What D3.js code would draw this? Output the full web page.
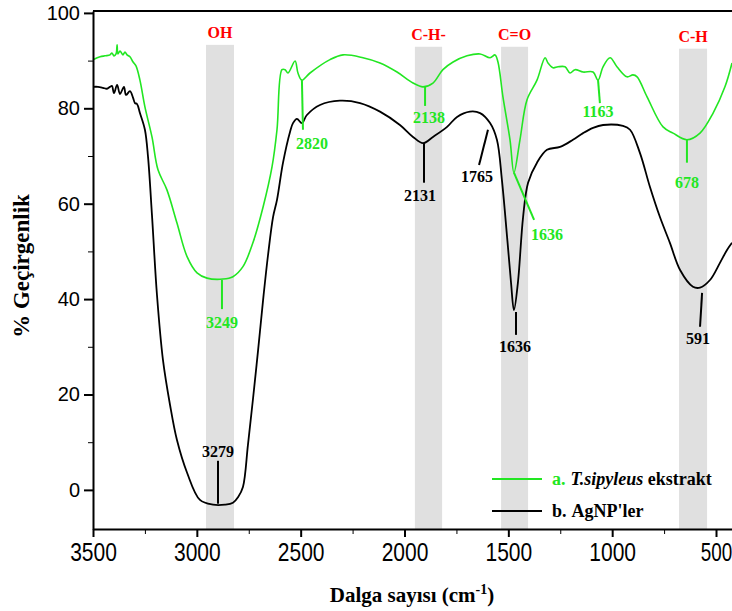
<!DOCTYPE html>
<html>
<head>
<meta charset="utf-8">
<script src="https://cdn.jsdelivr.net/npm/d3@7/dist/d3.min.js"></script>
<style>
  html, body { margin: 0; padding: 0; background: #fff; }
  svg { display: block; }
</style>
</head>
<body>
<svg id="chart" width="732" height="611"></svg>
<script>
// FTIR spectra: wavenumber (cm-1) vs. % transmittance
const extractWavenumber = [3500,3466,3442,3418,3409,3399,3389,3384,3380,3370,3356,3346,3336,3322,3307,3293,3274,3250,3216,3187,3144,3096,3047,2999,2951,2874,2826,2778,2730,2681,2638,2614,2590,2575,2561,2527,2513,2494,2455,2359,2296,2200,2118,2036,1959,1911,1863,1815,1766,1699,1636,1588,1564,1550,1526,1492,1473,1444,1410,1362,1323,1309,1285,1261,1227,1203,1179,1140,1092,1068,1044,1010,977,929,900,880,832,755,707,640,577,514,457,423];
const extractT = [90.2,90.8,91.0,91.2,91.6,91.0,91.4,93.3,91.4,92.0,91.2,91.8,91.2,90.8,89.7,88.9,85.9,80.3,74.0,67.1,62.9,56.0,48.9,45.5,44.4,44.2,44.7,46.8,51.8,59.3,67.7,75.5,88.1,88.1,87.4,89.9,87.4,85.9,87.4,90.2,91.2,90.6,89.5,87.6,85.3,84.5,85.3,88.1,89.7,91.0,91.4,90.6,91.2,89.7,82.4,73.4,66.5,73.4,81.8,85.9,90.6,89.5,88.5,88.7,88.7,87.4,88.1,87.6,87.6,85.9,88.7,90.6,88.7,86.6,87.0,86.6,82.4,76.1,74.8,73.4,74.8,79.0,84.5,89.5];

const agnpWavenumber = [3500,3476,3452,3433,3418,3409,3399,3384,3370,3351,3341,3322,3307,3298,3288,3274,3250,3235,3216,3192,3163,3129,3096,3047,2985,2922,2864,2826,2801,2778,2754,2730,2705,2681,2657,2633,2614,2585,2551,2537,2518,2494,2470,2407,2311,2214,2118,2022,1959,1911,1863,1795,1747,1685,1636,1588,1555,1531,1506,1487,1473,1454,1429,1405,1362,1314,1251,1189,1140,1092,1044,948,914,866,818,770,722,673,611,577,529,481,447,423];
const agnpT = [84.5,84.5,84.3,84.1,84.5,84.7,83.2,84.9,83.0,84.5,82.8,83.6,82.2,81.1,80.9,79.0,75.5,69.8,57.6,40.9,27.2,17.8,10.5,3.6,-2.1,-3.1,-3.1,-2.7,-1.5,0.6,9.4,18.9,29.3,39.8,49.3,57.2,60.8,68.6,75.1,76.9,77.8,76.9,78.6,80.7,81.6,81.1,79.3,76.5,74.0,72.7,74.0,76.1,78.2,79.3,79.0,76.9,73.4,65.0,53.0,43.4,37.7,43.4,57.2,64.4,68.6,71.3,71.9,73.4,74.8,75.9,76.5,76.3,75.5,70.6,63.5,57.2,51.8,46.1,42.6,42.4,44.0,47.6,50.3,51.8];

// Shaded functional-group regions
const bandNames = ["OH", "C-H-", "C=O", "C-H"];
const bandFrom  = [2956, 1950, 1535, 678];
const bandTo    = [2821, 1819, 1405, 543];
const bandTop   = [93.3, 92.9, 92.9, 92.5];

// Peak annotations: label, marked point (w, t), leader end (w2, t2), label anchor (wl, tl)
const peakLabels = ["3249","2820","2138","1636","1163","678","3279","2131","1765","1636","591"];
const peakSeries = ["a","a","a","a","a","a","b","b","b","b","b"];
const peakW  = [2879,2494,1901,1473,1068,640, 2898,1906,1598,1463,567];
const peakT  = [44.0,85.9,84.5,66.5,85.9,73.4, -2.9,72.7,75.5,37.3,41.3];
const leadW  = [2879,2489,1901,1376,1059,640, 2898,1906,1641,1463,577];
const leadT  = [37.9,75.5,80.5,56.6,81.1,68.6, 6.1,64.4,68.1,32.5,34.2];
const labelW = [2879,2445,1882,1314,1068,640, 2898,1925,1651,1468,587];
const labelT = [34.0,71.5,76.9,52.4,78.2,63.3, 6.9,60.6,64.6,28.9,30.6];

const xMajor = [3500,3000,2500,2000,1500,1000,500];
const xMinor = [3250,2750,2250,1750,1250,750];
const yMajor = [0,20,40,60,80,100];
const yMinor = [10,30,50,70,90];

const GREEN = "#22e622";
const BLACK = "#000000";
const colorOf = s => s === "a" ? GREEN : BLACK;
const SERIF = "'Liberation Serif', 'Times New Roman', serif";
const SANS = "'Liberation Sans', Arial, sans-serif";

const svg = d3.select("#chart");
const plotLeft = 93, plotRight = 732, plotTop = 11, plotBottom = 529;

const x = d3.scaleLinear().domain([3500, 423]).range([plotLeft, plotRight]);
const y = d3.scaleLinear().domain([-8.2, 100.4]).range([plotBottom, plotTop]);

// bands
const bands = bandNames.map((n, i) => ({ name: n, from: bandFrom[i], to: bandTo[i], top: bandTop[i] }));
svg.append("g").selectAll("rect").data(bands).join("rect")
  .attr("x", d => x(d.from))
  .attr("width", d => x(d.to) - x(d.from))
  .attr("y", d => y(d.top))
  .attr("height", d => plotBottom - y(d.top))
  .attr("fill", "#e0e0e0");

svg.append("g").selectAll("text").data(bands).join("text")
  .attr("x", d => (x(d.from) + x(d.to)) / 2)
  .attr("y", d => y(d.top) - 7)
  .attr("text-anchor", "middle")
  .attr("font-family", SERIF)
  .attr("font-weight", "bold")
  .attr("font-size", 16)
  .attr("fill", "#ff0000")
  .text(d => d.name);

// spectra
const line = d3.line().x(d => x(d[0])).y(d => y(d[1])).curve(d3.curveCatmullRom.alpha(0.5));
const extract = d3.zip(extractWavenumber, extractT);
const agnp = d3.zip(agnpWavenumber, agnpT);

svg.append("path").datum(agnp).attr("d", line)
  .attr("fill", "none").attr("stroke", BLACK).attr("stroke-width", 1.8).attr("stroke-linejoin", "round");
svg.append("path").datum(extract).attr("d", line)
  .attr("fill", "none").attr("stroke", GREEN).attr("stroke-width", 1.6).attr("stroke-linejoin", "round");

// peak leaders and labels
const peaks = peakLabels.map((t, i) => ({
  text: t, s: peakSeries[i], w: peakW[i], t: peakT[i], w2: leadW[i], t2: leadT[i], wl: labelW[i], tl: labelT[i]
}));
svg.append("g").selectAll("line").data(peaks).join("line")
  .attr("x1", d => x(d.w)).attr("y1", d => y(d.t))
  .attr("x2", d => x(d.w2)).attr("y2", d => y(d.t2))
  .attr("stroke", d => colorOf(d.s)).attr("stroke-width", 2);
svg.append("g").selectAll("text").data(peaks).join("text")
  .attr("x", d => x(d.wl)).attr("y", d => y(d.tl))
  .attr("text-anchor", "middle")
  .attr("font-family", SERIF)
  .attr("font-weight", "bold")
  .attr("font-size", 16)
  .attr("fill", d => colorOf(d.s))
  .text(d => d.text);

// axes
const xAxis = svg.append("g").attr("transform", `translate(0,${plotBottom})`)
  .call(d3.axisBottom(x).tickValues(xMajor).tickSize(8).tickSizeOuter(0).tickFormat(d3.format("d")));
svg.append("g").attr("transform", `translate(0,${plotBottom})`)
  .call(d3.axisBottom(x).tickValues(xMinor).tickSize(5).tickSizeOuter(0).tickFormat(""))
  .call(g => g.select(".domain").remove());
xAxis.select(".domain").attr("stroke-width", 2);
xAxis.selectAll(".tick line").attr("stroke-width", 2);
xAxis.selectAll(".tick text")
  .attr("y", null).attr("dy", null)
  .attr("transform", d => x(d) + 18 > plotRight
    ? "translate(0,32) scale(0.9,1.25)"
    : "translate(0,32) scale(1,1.25)")
  .attr("font-family", SANS)
  .attr("font-size", 21)
  .attr("fill", "#000");

const yAxis = svg.append("g").attr("transform", `translate(${plotLeft},0)`)
  .call(d3.axisLeft(y).tickValues(yMajor).tickSize(9).tickSizeOuter(0).tickPadding(4));
svg.append("g").attr("transform", `translate(${plotLeft},0)`)
  .call(d3.axisLeft(y).tickValues(yMinor).tickSize(5).tickSizeOuter(0).tickFormat(""))
  .call(g => g.select(".domain").remove());
yAxis.select(".domain").attr("stroke-width", 2);
yAxis.selectAll(".tick line").attr("stroke-width", 2);
yAxis.selectAll(".tick text")
  .attr("font-family", SANS)
  .attr("font-size", 20)
  .attr("fill", "#000");
svg.selectAll(".tick line").attr("stroke", "#000");

// top frame line
svg.append("line").attr("x1", plotLeft).attr("x2", plotRight)
  .attr("y1", plotTop).attr("y2", plotTop)
  .attr("stroke", "#000").attr("stroke-width", 2);

// axis titles
const xt = svg.append("text")
  .attr("x", 412).attr("y", 602)
  .attr("text-anchor", "middle")
  .attr("font-family", SERIF)
  .attr("font-weight", "bold")
  .attr("font-size", 21);
xt.append("tspan").text("Dalga sayısı (cm");
xt.append("tspan").attr("dy", -8).attr("font-size", 14).text("-1");
xt.append("tspan").attr("dy", 8).text(")");

svg.append("text")
  .attr("transform", "translate(29,266) rotate(-90)")
  .attr("text-anchor", "middle")
  .attr("font-family", SERIF)
  .attr("font-weight", "bold")
  .attr("font-size", 23)
  .text("% Geçirgenlik");

// legend
const legend = svg.append("g").attr("font-family", SERIF)
  .attr("font-weight", "bold").attr("font-size", 18);
const legendRows = [
  { color: GREEN, y: 479 },
  { color: BLACK, y: 511 }
];
legendRows.forEach(r => {
  legend.append("line").attr("x1", 492).attr("x2", 542).attr("y1", r.y).attr("y2", r.y)
    .attr("stroke", r.color).attr("stroke-width", r.color === GREEN ? 1.8 : 2);
});
const la = legend.append("text").attr("x", 552).attr("y", 485);
la.append("tspan").attr("fill", GREEN).text("a.");
la.append("tspan").attr("dx", 5).attr("font-style", "italic").text("T.sipyleus");
la.append("tspan").text(" ekstrakt");
const lb = legend.append("text").attr("x", 552).attr("y", 517);
lb.append("tspan").text("b.");
lb.append("tspan").attr("dx", 5).text("AgNP'ler");
</script>
</body>
</html>
